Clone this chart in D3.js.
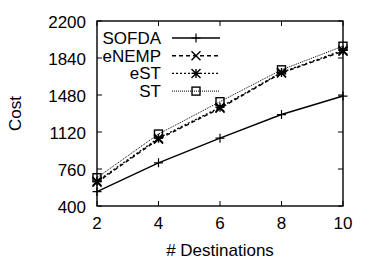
<!DOCTYPE html>
<html lang="en">
<head>
<meta charset="UTF-8">
<title>Cost vs Destinations</title>
<script src="https://d3js.org/d3.v7.min.js"></script>
<style>
    body { margin: 0; background: #fff; overflow: hidden; }
    text { font-family: "Liberation Sans", Arial, sans-serif; fill: #000; }
</style>
</head>
<body>
<script>
    // data
    const destinations = [2, 4, 6, 8, 10];
    const sofda = [540, 820, 1060, 1290, 1470];
    const enemp = [630, 1050, 1350, 1695, 1905];
    const est = [640, 1060, 1360, 1700, 1915];
    const st = [675, 1100, 1415, 1725, 1955];
    const yTicks = [400, 760, 1120, 1480, 1840, 2200];
    const seriesNames = ["SOFDA", "eNEMP", "eST", "ST"];

    const width = 375, height = 263;
    const margin = {left: 97, right: 32, top: 21, bottom: 57};

    const svg = d3.select("body").append("svg")
        .attr("width", width)
        .attr("height", height);

    const x = d3.scaleLinear().domain([2, 10]).range([margin.left, width - margin.right]);
    const y = d3.scaleLinear().domain([400, 2200]).range([height - margin.bottom, margin.top]);

    const series = [
        {name: seriesNames[0], values: sofda, dash: null, width: 1.4, marker: "plus"},
        {name: seriesNames[1], values: enemp, dash: "4,3", width: 1.4, marker: "cross"},
        {name: seriesNames[2], values: est, dash: "2,2", width: 1.3, marker: "star"},
        {name: seriesNames[3], values: st, dash: "1,1", width: 1, marker: "square"}
    ];

    // inward ticks on all four sides
    const tickLen = 5;
    const frame = svg.append("g");
    destinations.forEach(d => {
        frame.append("line").attr("x1", x(d)).attr("x2", x(d))
            .attr("y1", y(400)).attr("y2", y(400) - tickLen).attr("stroke", "#000");
        frame.append("line").attr("x1", x(d)).attr("x2", x(d))
            .attr("y1", y(2200)).attr("y2", y(2200) + tickLen).attr("stroke", "#000");
        svg.append("text").attr("x", x(d)).attr("y", y(400) + 23)
            .attr("text-anchor", "middle").style("font-size", "17px").text(d);
    });
    yTicks.forEach(v => {
        frame.append("line").attr("x1", x(2)).attr("x2", x(2) + tickLen)
            .attr("y1", y(v)).attr("y2", y(v)).attr("stroke", "#000");
        frame.append("line").attr("x1", x(10)).attr("x2", x(10) - tickLen)
            .attr("y1", y(v)).attr("y2", y(v)).attr("stroke", "#000");
        svg.append("text").attr("x", x(2) - 11).attr("y", y(v) + 7)
            .attr("text-anchor", "end").style("font-size", "17px").text(v);
    });

    frame.append("rect")
        .attr("x", x(2)).attr("y", y(2200))
        .attr("width", x(10) - x(2)).attr("height", y(400) - y(2200))
        .attr("fill", "none").attr("stroke", "#000").attr("stroke-width", 1.4);

    svg.append("text")
        .attr("transform", `translate(21,${(y(400) + y(2200)) / 2}) rotate(-90)`)
        .attr("text-anchor", "middle").style("font-size", "17px").text("Cost");
    svg.append("text")
        .attr("x", (x(2) + x(10)) / 2).attr("y", 256)
        .attr("text-anchor", "middle").style("font-size", "17px").text("# Destinations");

    function drawMarker(g, type, cx, cy) {
        const s = 4.5;
        if (type === "plus") {
            g.append("path").attr("d", `M${cx - s},${cy}H${cx + s}M${cx},${cy - s}V${cy + s}`)
                .attr("stroke", "#000").attr("stroke-width", 1.2);
        } else if (type === "cross") {
            g.append("path").attr("d", `M${cx - s},${cy - s}L${cx + s},${cy + s}M${cx - s},${cy + s}L${cx + s},${cy - s}`)
                .attr("stroke", "#000").attr("stroke-width", 1.4);
        } else if (type === "star") {
            g.append("path").attr("d", `M${cx - s},${cy - s}L${cx + s},${cy + s}M${cx - s},${cy + s}L${cx + s},${cy - s}M${cx - s},${cy}H${cx + s}M${cx},${cy - s}V${cy + s}`)
                .attr("stroke", "#000").attr("stroke-width", 1.4);
        } else {
            g.append("rect").attr("x", cx - 4).attr("y", cy - 4).attr("width", 8).attr("height", 8)
                .attr("fill", "none").attr("stroke", "#000").attr("stroke-width", 1.4);
        }
    }

    const line = d3.line().x((d, i) => x(destinations[i])).y(d => y(d));

    series.forEach(s => {
        const g = svg.append("g");
        g.append("path").datum(s.values)
            .attr("d", line)
            .attr("fill", "none").attr("stroke", "#000")
            .attr("stroke-width", s.width)
            .attr("stroke-dasharray", s.dash);
        s.values.forEach((v, i) => drawMarker(g, s.marker, x(destinations[i]), y(v)));
    });

    // legend
    const legend = svg.append("g");
    series.forEach((s, i) => {
        const ly = 38 + i * 17.7;
        legend.append("text").attr("x", 161).attr("y", ly + 6)
            .attr("text-anchor", "end").style("font-size", "17px").text(s.name);
        legend.append("line").attr("x1", 172).attr("x2", 220)
            .attr("y1", ly).attr("y2", ly)
            .attr("stroke", "#000").attr("stroke-width", s.width)
            .attr("stroke-dasharray", s.dash);
        drawMarker(legend, s.marker, 196, ly);
    });
</script>
</body>
</html>
